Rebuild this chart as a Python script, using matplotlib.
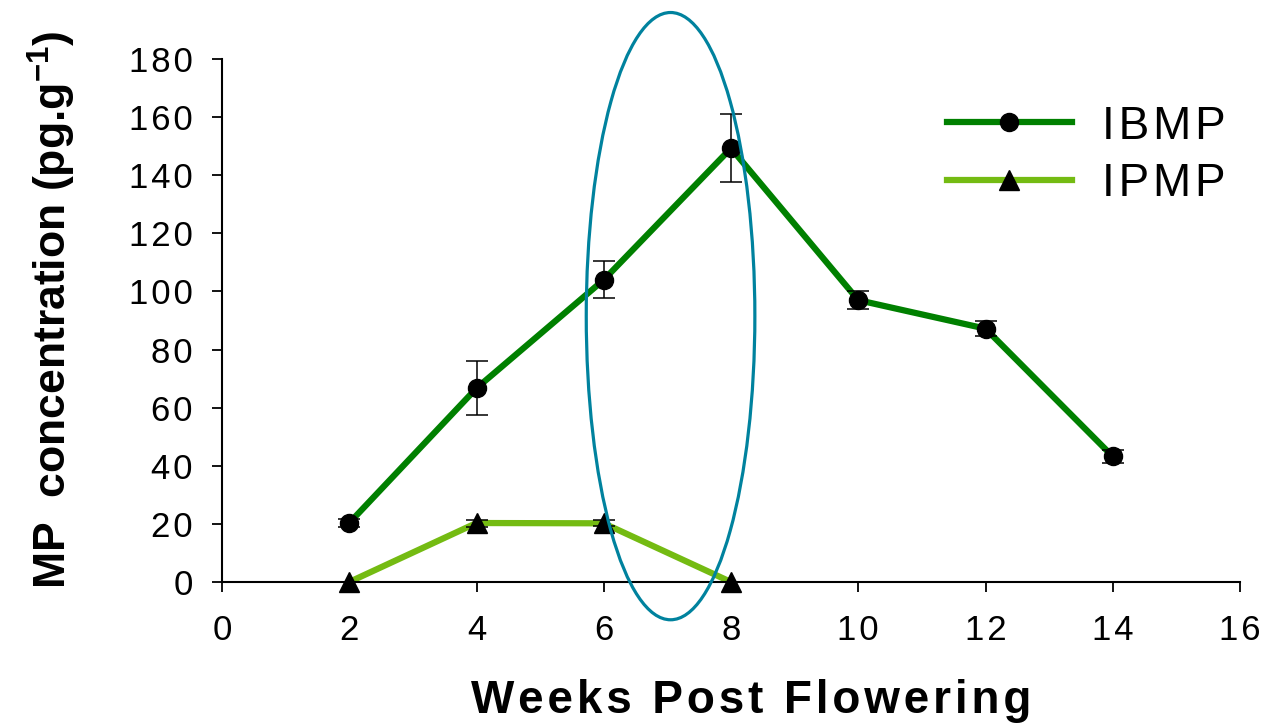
import matplotlib
matplotlib.use("Agg")
import matplotlib.pyplot as plt
from matplotlib.patches import Ellipse

plt.rcParams['font.family'] = ['Liberation Sans', 'DejaVu Sans']
plt.rcParams['mathtext.fontset'] = 'custom'
plt.rcParams['mathtext.rm'] = 'Liberation Sans'
plt.rcParams['mathtext.bf'] = 'Liberation Sans:bold'

# data
weeks_ibmp = [2, 4, 6, 8, 10, 12, 14]
ibmp = [20.3, 66.7, 104.0, 149.3, 97.0, 87.2, 43.2]
ibmp_err = [1.5, 9.2, 6.4, 11.8, 3.0, 2.7, 2.3]

weeks_ipmp = [2, 4, 6, 8]
ipmp = [0, 20.3, 20.2, 0]
ipmp_err = [0, 1.2, 1.0, 0]

x_ticks = [0, 2, 4, 6, 8, 10, 12, 14, 16]
y_ticks = [0, 20, 40, 60, 80, 100, 120, 140, 160, 180]

dark_green = '#008000'
light_green = '#74bb12'

def spaced(s):
    # the source chart has slightly stretched lettering
    return '\u200a'.join(s)

fig = plt.figure(figsize=(12.63, 7.25), dpi=100)
ax = fig.add_axes([222/1263, 143/725, 1018/1263, 523/725])

#lines + markers
ax.plot(weeks_ibmp, ibmp, color=dark_green, lw=4.5, marker='o', ms=13,
        mfc='black', mec='black', label=spaced('IBMP'), zorder=2, clip_on=False)
ax.plot(weeks_ipmp, ipmp, color=light_green, lw=4.5, marker='^', ms=14,
        mfc='black', mec='black', label=spaced('IPMP'), zorder=2, clip_on=False)

#error bars
ax.errorbar(weeks_ibmp, ibmp, yerr=ibmp_err, fmt='none', ecolor='black',
            elinewidth=1.1, capsize=8, capthick=1.1, zorder=3)
ax.errorbar(weeks_ipmp, ipmp, yerr=ipmp_err, fmt='none', ecolor='black',
            elinewidth=1.1, capsize=8, capthick=1.1, zorder=3)

# highlight around weeks 6-8
ell = Ellipse((7.05, 91.5), width=2.65, height=209, fill=False,
              edgecolor='#00829e', lw=2.3, clip_on=False, zorder=5)
ax.add_patch(ell)

ax.set_xlim(0, 16)
ax.set_ylim(0, 180)
ax.set_xticks(x_ticks)
ax.set_xticklabels([spaced(str(v)) for v in x_ticks])
ax.set_yticks(y_ticks)
ax.set_yticklabels([spaced(str(v)) for v in y_ticks])
ax.tick_params(direction='out', length=7, width=1.3, labelsize=25, pad=14)
ax.tick_params(axis='x', pad=16)

for s in ['top', 'right']:
    ax.spines[s].set_visible(False)
for s in ['left', 'bottom']:
    ax.spines[s].set_linewidth(1.5)

ax.set_xlabel(spaced('Weeks Post Flowering'), fontsize=33, fontweight='bold')
ax.xaxis.set_label_coords(0.52, -0.185)
ax.set_ylabel(r'MP  concentration (pg.g$^{\mathbf{-1}}$)', fontsize=32, fontweight='bold')
ax.yaxis.set_label_coords(-0.141, 0.52)

ax.legend(loc='upper left', bbox_to_anchor=(0.712, 0.913), frameon=False,
          fontsize=33, handlelength=2.73, handletextpad=0.65, labelspacing=0.3,
          borderpad=0, borderaxespad=0)

plt.savefig('out.png', dpi=100)
